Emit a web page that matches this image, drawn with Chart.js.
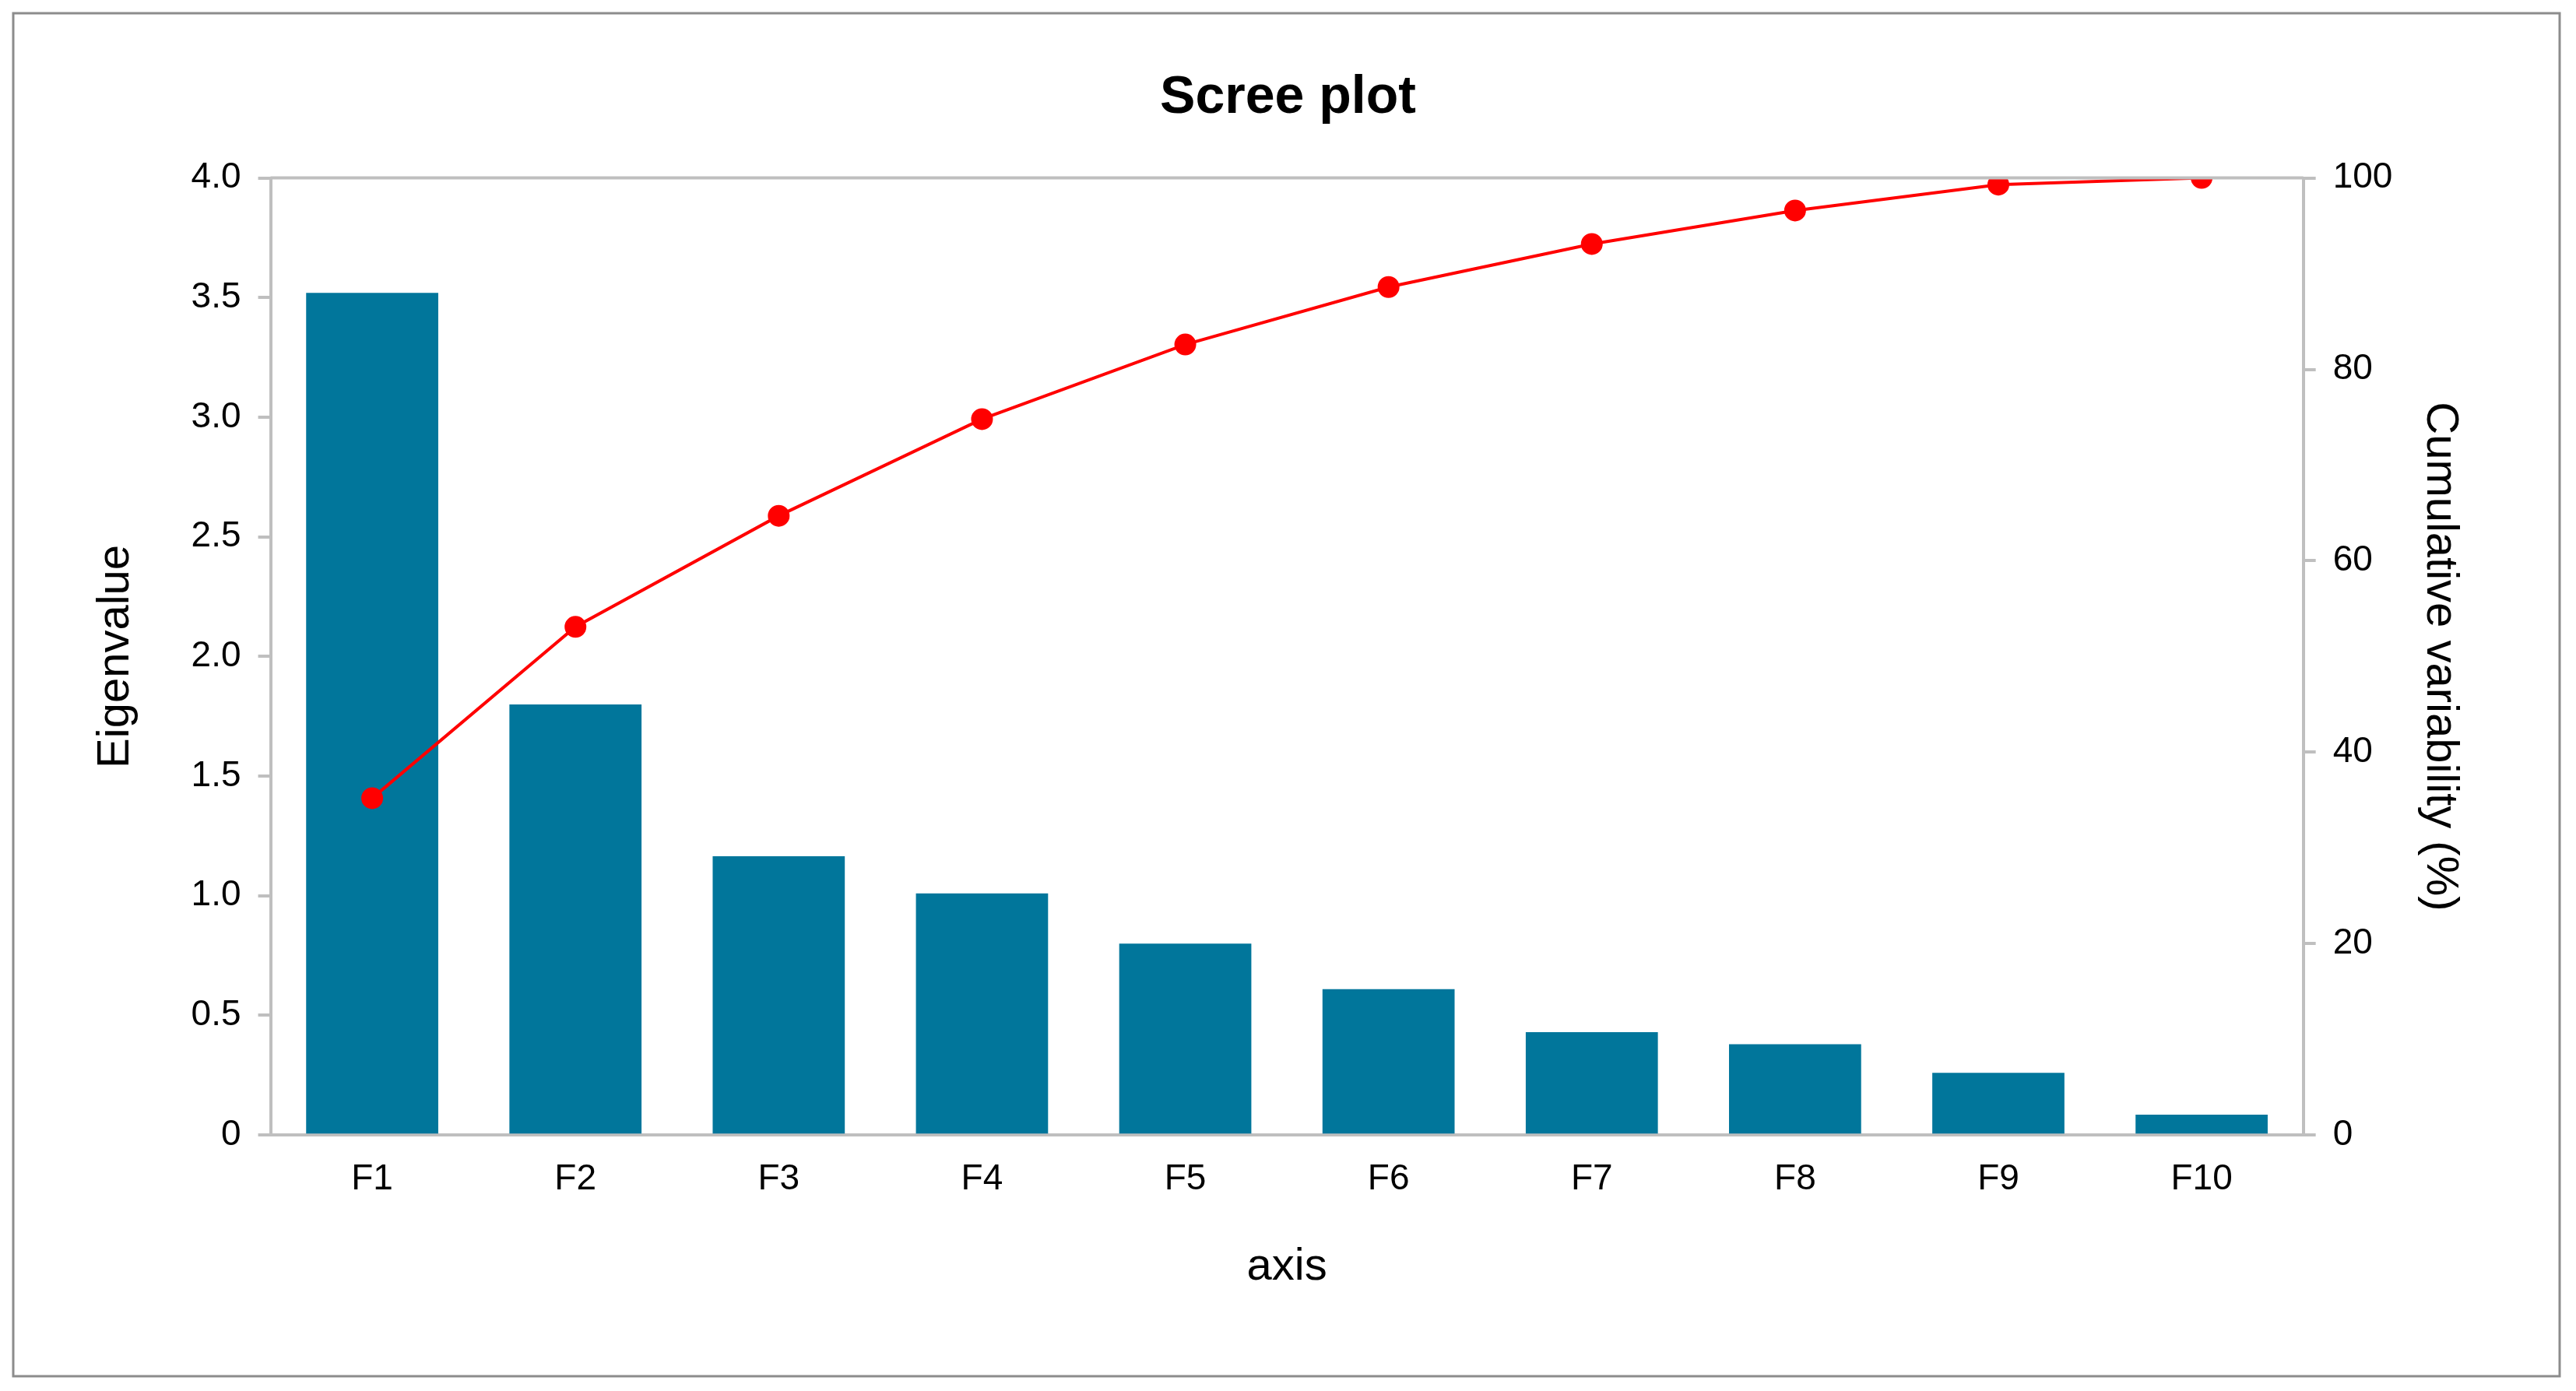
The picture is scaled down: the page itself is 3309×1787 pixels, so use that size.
<!DOCTYPE html>
<html>
<head>
<meta charset="utf-8">
<script src="https://cdn.jsdelivr.net/npm/chart.js@4"></script>
<style>
  body { margin: 0; background: #fff; }
  canvas { display: block; }
</style>
</head>
<body>
<canvas id="scree" width="3309" height="1787"></canvas>
<script>
const axes = ['F1', 'F2', 'F3', 'F4', 'F5', 'F6', 'F7', 'F8', 'F9', 'F10'];
const eigenvalues = [3.52, 1.80, 1.165, 1.01, 0.80, 0.61, 0.43, 0.38, 0.26, 0.085];
const cumulative = [35.2, 53.1, 64.7, 74.8, 82.6, 88.6, 93.1, 96.6, 99.3, 100];

const axisGray = '#bfbfbf';

// outer frame + top line of plot area
const frame = {
  id: 'frame',
  beforeDraw(chart) {
    const ctx = chart.ctx;
    ctx.save();
    ctx.fillStyle = '#fff';
    ctx.fillRect(0, 0, chart.width, chart.height);
    ctx.strokeStyle = '#8c8c8c';
    ctx.lineWidth = 3;
    ctx.strokeRect(17, 17, 3271, 1751);
    ctx.restore();
  },
  afterDraw(chart) {
    const a = chart.chartArea, ctx = chart.ctx;
    ctx.save();
    ctx.strokeStyle = axisGray;
    ctx.lineWidth = 4;
    ctx.beginPath();
    ctx.moveTo(a.left, a.top);
    ctx.lineTo(a.right, a.top);
    ctx.stroke();
    ctx.restore();
  }
};

new Chart(document.getElementById('scree'), {
  data: {
    labels: axes,
    datasets: [{
      type: 'line',
      label: 'Cumulative variability (%)',
      data: cumulative,
      yAxisID: 'y2',
      borderColor: '#ff0000',
      backgroundColor: '#ff0000',
      borderWidth: 4,
      pointRadius: 12,
      pointBackgroundColor: '#ff0000',
      pointBorderColor: '#ff0000',
      tension: 0
    }, {
      type: 'bar',
      label: 'Eigenvalue',
      data: eigenvalues,
      yAxisID: 'y',
      backgroundColor: '#01769b',
      barPercentage: 0.65,
      categoryPercentage: 1
    }]
  },
  options: {
    responsive: false,
    devicePixelRatio: 1,
    animation: false,
    layout: { padding: { left: 110, right: 110, top: 0, bottom: 120 } },
    plugins: {
      legend: { display: false },
      tooltip: { enabled: false },
      title: {
        display: true,
        text: 'Scree plot',
        color: '#000',
        font: { family: 'Liberation Sans, Arial', size: 68, weight: 'bold' },
        padding: { top: 85, bottom: 62 }
      }
    },
    scales: {
      x: {
        grid: { display: true, drawOnChartArea: false, drawTicks: false, color: axisGray },
        border: { color: axisGray, width: 4 },
        ticks: { color: '#000', font: { family: 'Liberation Sans, Arial', size: 46 }, padding: 30 },
        title: { display: true, text: 'axis', color: '#000', font: { family: 'Liberation Sans, Arial', size: 58 }, padding: { top: 20 } }
      },
      y: {
        position: 'left',
        min: 0, max: 4,
        grid: { display: true, drawOnChartArea: false, tickLength: 16, color: axisGray, lineWidth: 4 },
        border: { color: axisGray, width: 4 },
        ticks: { stepSize: 0.5, color: '#000', font: { family: 'Liberation Sans, Arial', size: 46 }, padding: 22 },
        title: { display: true, text: 'Eigenvalue', color: '#000', font: { family: 'Liberation Sans, Arial', size: 58 }, padding: { bottom: 40 } }
      },
      y2: {
        position: 'right',
        min: 0, max: 100,
        grid: { display: true, drawOnChartArea: false, tickLength: 16, color: axisGray, lineWidth: 4 },
        border: { color: axisGray, width: 4 },
        ticks: { stepSize: 20, color: '#000', font: { family: 'Liberation Sans, Arial', size: 46 }, padding: 22 },
        title: { display: true, text: 'Cumulative variability (%)', color: '#000', font: { family: 'Liberation Sans, Arial', size: 58 }, padding: { top: 30 } }
      }
    }
  },
  plugins: [frame]
});
</script>
</body>
</html>
